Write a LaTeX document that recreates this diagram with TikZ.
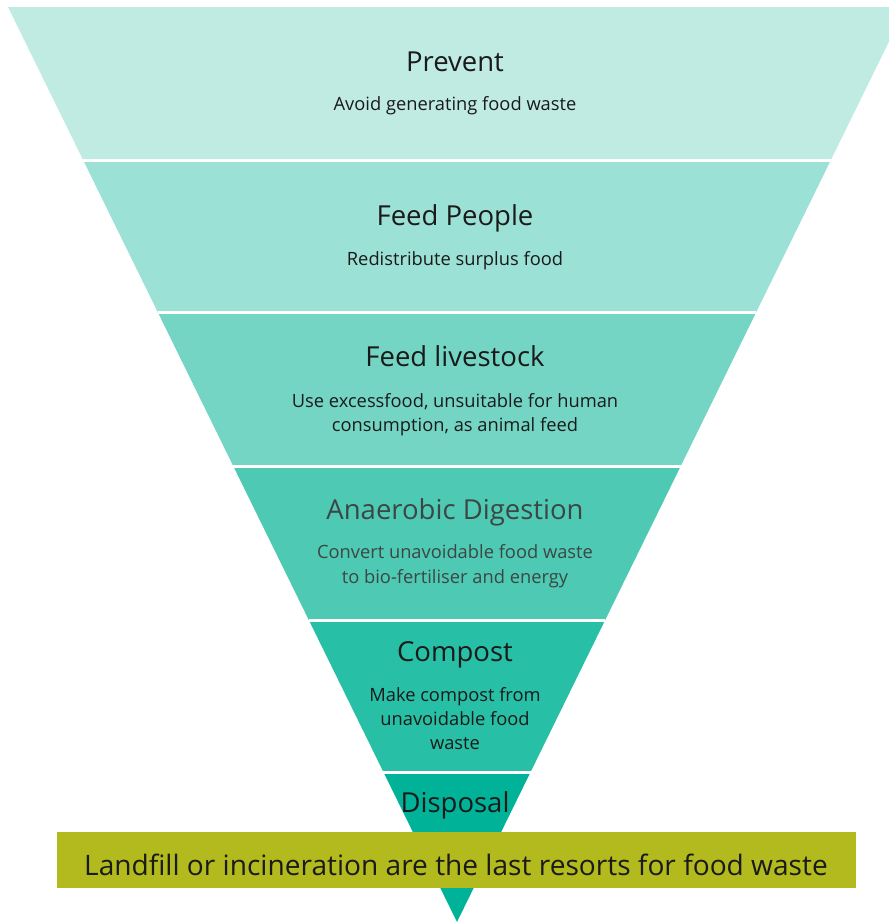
\documentclass[tikz,border=0pt]{standalone}
\usepackage{fontspec}
\setmainfont{Open Sans}
\definecolor{bandA}{HTML}{C0EBE3}
\definecolor{bandB}{HTML}{9CE1D5}
\definecolor{bandC}{HTML}{74D5C4}
\definecolor{bandD}{HTML}{4ECAB4}
\definecolor{bandE}{HTML}{27BFA6}
\definecolor{bandF}{HTML}{00B398}
\definecolor{barcol}{HTML}{B2BA1E}
\definecolor{txt}{HTML}{1A1A1A}
\definecolor{txtgray}{HTML}{3C4644}
\tikzset{
  sep/.style={draw=white, line width=3pt},
  ttl/.style={text=txt, font=\fontsize{27.5}{32}\selectfont, inner sep=0pt, anchor=base},
  sub/.style={text=txt, font=\fontsize{18.3}{24}\selectfont, inner sep=0pt, anchor=base},
}
\begin{document}
\begin{tikzpicture}[x=1pt,y=-1pt]
\useasboundingbox (0,0) rectangle (889,922);
\clip (0,0) rectangle (889,922);
% boundary coordinates
\coordinate (l0) at (8,7);      \coordinate (r0) at (906,7);
\coordinate (l1) at (83.1,160); \coordinate (r1) at (830.9,160);
\coordinate (l2) at (157.7,312);\coordinate (r2) at (756.3,312);
\coordinate (l3) at (233.2,466);\coordinate (r3) at (680.8,466);
\coordinate (l4) at (308.8,620);\coordinate (r4) at (605.2,620);
\coordinate (l5) at (383.4,772);\coordinate (r5) at (530.6,772);
\coordinate (apex) at (457,922);
% bands
\fill[bandA] (l0) -- (r0) -- (r1) -- (l1) -- cycle;
\fill[bandB] (l1) -- (r1) -- (r2) -- (l2) -- cycle;
\fill[bandC] (l2) -- (r2) -- (r3) -- (l3) -- cycle;
\fill[bandD] (l3) -- (r3) -- (r4) -- (l4) -- cycle;
\fill[bandE] (l4) -- (r4) -- (r5) -- (l5) -- cycle;
\fill[bandF] (l5) -- (r5) -- (apex) -- cycle;
% separators
\draw[sep] (l1) -- (r1);
\draw[sep] (l2) -- (r2);
\draw[sep] (l3) -- (r3);
\draw[sep] (l4) -- (r4);
\draw[sep] (l5) -- (r5);
% texts
\node[ttl] (t1) at (455,71) {Prevent};
\node[sub] (s1) at (455,110) {Avoid generating food waste};
\node[ttl] (t2) at (455,225) {Feed People};
\node[sub] (s2) at (455,265) {Redistribute surplus food};
\node[ttl] (t3) at (455,366) {Feed livestock};
\node[sub] (s3a) at (455,407) {Use excessfood, unsuitable for human};
\node[sub] (s3b) at (455,431) {consumption, as animal feed};
\node[ttl, text=txtgray] (t4) at (455,519) {Anaerobic Digestion};
\node[sub, text=txtgray] (s4a) at (455,558) {Convert unavoidable food waste};
\node[sub, text=txtgray] (s4b) at (455,583) {to bio-fertiliser and energy};
\node[ttl] (t5) at (455,661) {Compost};
\node[sub] (s5a) at (455,701) {Make compost from};
\node[sub] (s5b) at (455,725) {unavoidable food};
\node[sub] (s5c) at (455,749) {waste};
\node[ttl] (t6) at (455,812) {Disposal};
% bar
\node[fill=barcol, minimum width=799pt, minimum height=56pt, inner sep=0pt, anchor=north west] (bar) at (57,832) {};
\node[text=txt, font=\fontsize{28.1}{32}\selectfont, inner sep=0pt, anchor=base] (bartext) at (456,875) {Landfill or incineration are the last resorts for food waste};
\end{tikzpicture}
\end{document}
